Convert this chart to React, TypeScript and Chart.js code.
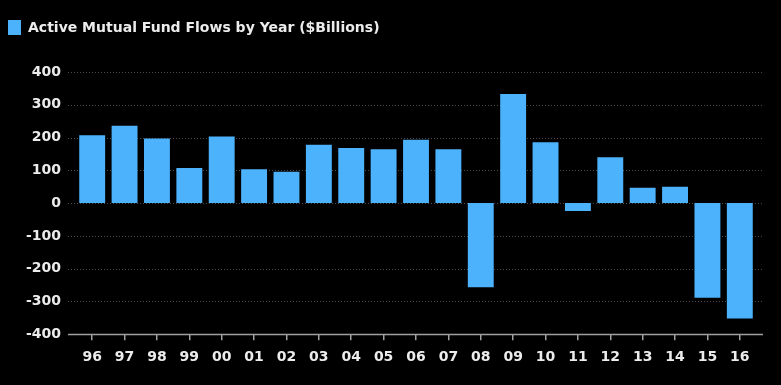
import React, { useEffect, useRef } from 'react';
import { Chart, registerables } from 'chart.js';

Chart.register(...registerables);

const categories = ['96', '97', '98', '99', '00', '01', '02', '03', '04', '05', '06', '07', '08', '09', '10', '11', '12', '13', '14', '15', '16'];
const flows = [207, 236, 197, 107, 203, 103, 96, 178, 168, 164, 193, 164, -257, 333, 186, -24, 140, 47, 50, -289, -352];
const legendLabel = 'Active Mutual Fund Flows by Year ($Billions)';
const yMin = -400;
const yMax = 400;
const yStep = 100;

const BAR = '#4cb2fc';
const TEXT = '#ececec';
const FONT = '"DejaVu Sans", Verdana, sans-serif';

const decorPlugin = {
  id: 'decor',
  beforeDatasetsDraw(chart: any) {
    const { ctx, chartArea, scales } = chart;
    const y = scales.y;
    const left = chartArea.left - 8;
    const right = chartArea.right + 7;
    ctx.save();
    y.ticks.forEach((t: any) => {
      const py = Math.round(y.getPixelForValue(t.value)) + 0.5;
      if (t.value === yMin) return;
      ctx.beginPath();
      ctx.strokeStyle = 'rgba(150,150,150,0.5)';
      ctx.lineWidth = 1;
      ctx.setLineDash([1, 2]);
      ctx.moveTo(left, py);
      ctx.lineTo(right, py);
      ctx.stroke();
    });
    ctx.setLineDash([]);
    const by = Math.round(y.getPixelForValue(yMin)) + 0.5;
    ctx.beginPath();
    ctx.strokeStyle = '#a0a0a0';
    ctx.lineWidth = 1.5;
    ctx.moveTo(left, by);
    ctx.lineTo(right, by);
    ctx.stroke();
    ctx.restore();
  },
  afterDraw(chart: any) {
    const { ctx } = chart;
    ctx.save();
    ctx.fillStyle = BAR;
    ctx.fillRect(8, 20, 13, 15);
    ctx.fillStyle = TEXT;
    ctx.font = `bold 14px ${FONT}`;
    ctx.textBaseline = 'middle';
    ctx.textAlign = 'left';
    ctx.fillText(chart.data.datasets[0].label, 28, 28);
    ctx.restore();
  },
};

export default function App() {
  const ref = useRef<HTMLCanvasElement>(null);
  useEffect(() => {
    const chart = new Chart(ref.current!, {
      type: 'bar',
      data: {
        labels: categories,
        datasets: [
          {
            label: legendLabel,
            data: flows,
            backgroundColor: BAR,
            borderWidth: 0,
            barPercentage: 0.8,
            categoryPercentage: 1,
          },
        ],
      },
      options: {
        animation: false,
        responsive: false,
        maintainAspectRatio: false,
        layout: { padding: { top: 72, right: 25, bottom: 10, left: 0 } },
        plugins: { legend: { display: false }, tooltip: { enabled: false } },
        scales: {
          x: {
            grid: {
              display: true,
              drawOnChartArea: false,
              offset: false,
              tickLength: 6,
              color: '#a0a0a0',
              lineWidth: 1.5,
            },
            border: { display: false },
            ticks: {
              color: TEXT,
              font: { family: FONT, size: 14, weight: 'bold' },
              padding: 9,
              maxRotation: 0,
              autoSkip: false,
            },
          },
          y: {
            min: yMin,
            max: yMax,
            afterFit: (s: any) => {
              s.width = 76;
            },
            grid: { display: false, drawTicks: false },
            border: { display: false },
            ticks: {
              stepSize: yStep,
              color: TEXT,
              font: { family: FONT, size: 14, weight: 'bold' },
              padding: 15,
            },
          },
        },
      },
      plugins: [decorPlugin],
    });
    return () => chart.destroy();
  }, []);
  return (
    <div style={{ position: 'fixed', left: 0, top: 0, width: 781, height: 385, background: '#000' }}>
      <canvas ref={ref} width={781} height={385} style={{ display: 'block' }} />
    </div>
  );
}
